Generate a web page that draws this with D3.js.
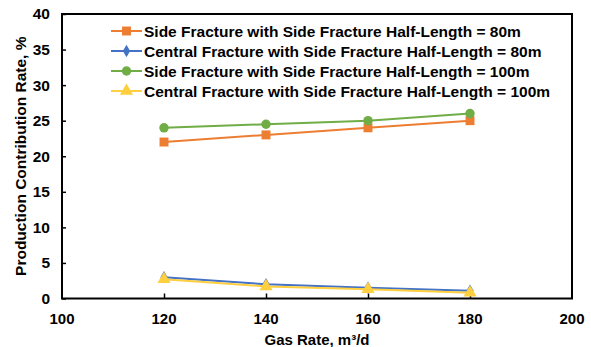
<!DOCTYPE html>
<html><head><meta charset="utf-8">
<script src="https://cdn.jsdelivr.net/npm/d3@7/dist/d3.min.js"></script>
<style>body{margin:0;background:#fff}svg{display:block}text{font-family:"Liberation Sans",Arial,sans-serif;font-weight:bold}</style>
</head><body><svg id="c" width="591" height="347"></svg>
<script>
const gasRates = [120, 140, 160, 180];
const seriesNames = [
  "Side Fracture with Side Fracture Half-Length = 80m",
  "Central Fracture with Side Fracture Half-Length = 80m",
  "Side Fracture with Side Fracture Half-Length = 100m",
  "Central Fracture with Side Fracture Half-Length = 100m"
];
const side80 = [22, 23, 24, 25];
const central80 = [3.0, 2.0, 1.5, 1.1];
const side100 = [24, 24.5, 25, 26];
const central100 = [2.7, 1.7, 1.3, 0.8];
const xTicks = [100, 120, 140, 160, 180, 200];
const yTicks = [0, 5, 10, 15, 20, 25, 30, 35, 40];
const colors = ["#ED7D31", "#4472C4", "#70AD47", "#FFCF3F"];
const markers = [d3.symbolSquare, d3.symbolDiamond, d3.symbolCircle, d3.symbolTriangle];
const markerSizes = [80, 45, 70, 75];
const seriesValues = [side80, central80, side100, central100];

const svg = d3.select("#c");
const L = 62, R = 572, T = 14, B = 298.5;
const x = d3.scaleLinear().domain([100, 200]).range([L, R]);
const y = d3.scaleLinear().domain([0, 40]).range([B, T]);

// frame
svg.append("rect").attr("x", L).attr("y", T).attr("width", R - L).attr("height", B - T)
  .attr("fill", "none").attr("stroke", "#000").attr("stroke-width", 2);

// axes
const yAxis = d3.axisLeft(y).tickValues(yTicks).tickSize(-4).tickPadding(10);
const gy = svg.append("g").attr("transform", `translate(${L},0)`).call(yAxis);
gy.select(".domain").remove();
gy.selectAll("line").attr("stroke", "#000").attr("stroke-width", 1.5);
gy.selectAll("text").attr("font-size", 15.5).attr("fill", "#000").attr("x", -12);

const xAxis = d3.axisBottom(x).tickValues(xTicks.filter(v => v > 100 && v < 200)).tickSize(-5).tickPadding(10);
const gx = svg.append("g").attr("transform", `translate(0,${B})`).call(xAxis);
gx.select(".domain").remove();
gx.selectAll("line").attr("stroke", "#000").attr("stroke-width", 1.5);
gx.selectAll("text").remove();
svg.append("g").selectAll("text").data(xTicks).join("text")
  .attr("x", d => x(d)).attr("y", 324).attr("text-anchor", "middle")
  .attr("font-size", 15).attr("fill", "#000").text(d => d);

// axis titles
svg.append("text").attr("x", 317).attr("y", 345).attr("text-anchor", "middle")
  .attr("font-size", 15).text("Gas Rate, m\u00B3/d");
svg.append("text").attr("transform", `translate(25.5,${(T + B) / 2}) rotate(-90)`)
  .attr("text-anchor", "middle").attr("font-size", 15.5).text("Production Contribution Rate, %");

// series
const line = d3.line().x((d, i) => x(gasRates[i])).y(d => y(d));
seriesValues.forEach((vals, k) => {
  const g = svg.append("g");
  g.append("path").datum(vals).attr("d", line).attr("fill", "none")
    .attr("stroke", colors[k]).attr("stroke-width", 2);
  g.selectAll("path.m").data(vals).join("path").attr("class", "m")
    .attr("transform", (d, i) => `translate(${x(gasRates[i])},${y(d)})`)
    .attr("d", d3.symbol(markers[k], markerSizes[k])).attr("fill", colors[k]);
});

// legend
const lg = svg.append("g");
seriesNames.forEach((name, k) => {
  const yy = 31 + k * 20;
  lg.append("line").attr("x1", 111).attr("x2", 142).attr("y1", yy).attr("y2", yy)
    .attr("stroke", colors[k]).attr("stroke-width", 2);
  lg.append("path").attr("transform", `translate(126.5,${yy})`)
    .attr("d", d3.symbol(markers[k], markerSizes[k])).attr("fill", colors[k]);
  lg.append("text").attr("x", 144).attr("y", yy + 5.5).attr("font-size", 15.5).text(name);
});
</script></body></html>
